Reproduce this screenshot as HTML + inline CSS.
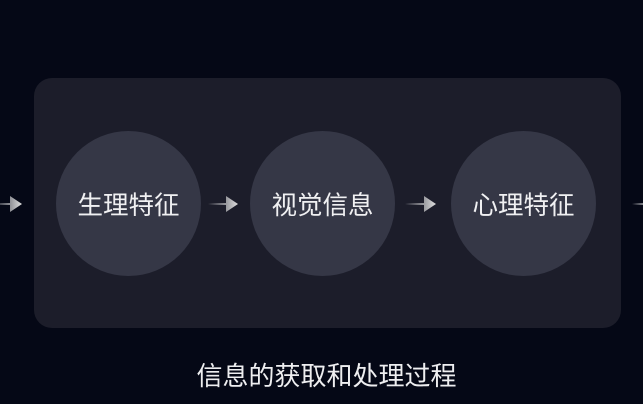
<!DOCTYPE html><html><head><meta charset="utf-8"><style>
body{margin:0;width:643px;height:404px;background:#050816;overflow:hidden;position:relative;font-family:"Liberation Sans","Noto Sans CJK SC",sans-serif}
.panel{position:absolute;left:34px;top:78px;width:587px;height:250px;border-radius:18px;background:#1c1d2a}
.c{position:absolute;top:131px;width:145px;height:145px;border-radius:50%;background:#353746;color:#f0f0f2;font-size:25.5px;display:flex;align-items:center;justify-content:center}
.cap{position:absolute;left:0;width:653px;top:356px;text-align:center;color:#eeeef0;font-size:26px}
svg{position:absolute;left:0;top:0}
</style></head><body>
<div class="panel"></div>
<div class="c" style="left:56px">生理特征</div>
<div class="c" style="left:250px">视觉信息</div>
<div class="c" style="left:451px">心理特征</div>
<svg width="643" height="404"><defs><linearGradient id="g" x1="0" x2="1"><stop offset="0" stop-color="#fff" stop-opacity="0"/><stop offset="1" stop-color="#ddd"/></linearGradient></defs>
<g fill="url(#g)">
<path d="M-8 203h18v-7l12 8l-12 8v-7h-18z"/>
<path d="M208 203h18v-7l12 8l-12 8v-7h-18z"/>
<path d="M405 203h19v-7l12 8l-12 8v-7h-19z"/>
<path d="M632 203h20v2h-20z"/>
</g></svg>
<div class="cap">信息的获取和处理过程</div>
</body></html>
